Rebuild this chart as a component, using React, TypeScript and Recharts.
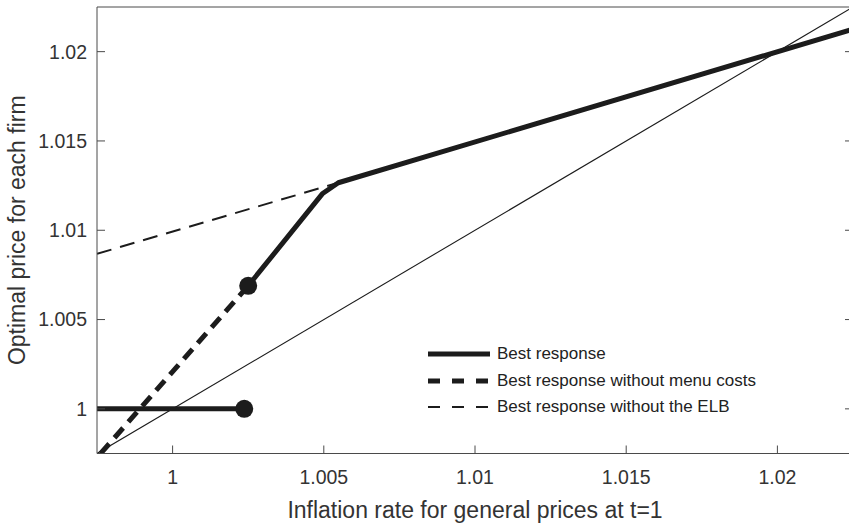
import React from 'react';
import { ComposedChart, Line, Scatter, XAxis, YAxis, Legend } from 'recharts';

// values
const axisDomain = [0.9975, 1.0225];
const tickValues = [1, 1.005, 1.01, 1.015, 1.02];
const tickLabels = ['1', '1.005', '1.01', '1.015', '1.02'];

const identityX = [0.9975, 1.0225];
const identityY = [0.9975, 1.0225];

const brLowX = [0.9975, 1.00237];
const brLowY = [1, 1];

const brHighX = [1.0025, 1.00495, 1.00548, 1.0225];
const brHighY = [1.00689, 1.01204, 1.01266, 1.02126];

const noMenuX = [0.99762, 1.0025];
const noMenuY = [0.9975, 1.00689];

const noElbX = [0.9975, 1.00548];
const noElbY = [1.00868, 1.01266];

const markerX = [1.00237, 1.0025];
const markerY = [1, 1.00689];

const legendNames = [
  'Best response',
  'Best response without menu costs',
  'Best response without the ELB',
];

const toPoints = (xs: number[], ys: number[]) => xs.map((x, i) => ({ x, y: ys[i] }));

const INK = '#1c1c1c';
const AXIS = '#4a4a4a';
const TEXT = '#333';
const FONT = '"Liberation Sans", Arial, sans-serif';

const fmt = (v: number) => {
  const i = tickValues.indexOf(v);
  return i >= 0 ? tickLabels[i] : String(v);
};

// mirrored axes keep their tick marks but show no labels
const NoLabel = () => <g />;

const legendStyles = [
  { width: 5, dash: undefined as string | undefined },
  { width: 5, dash: '12 12' },
  { width: 2, dash: '12 12' },
];

const renderLegend = () => (
  <div style={{ fontFamily: FONT, fontSize: 17, color: '#222' }}>
    {legendNames.map((name, i) => (
      <div key={name} style={{ display: 'flex', alignItems: 'center', height: 26.5 }}>
        <svg width={62} height={10} style={{ marginRight: 7 }}>
          <line
            x1={0}
            y1={5}
            x2={62}
            y2={5}
            stroke={INK}
            strokeWidth={legendStyles[i].width}
            strokeDasharray={legendStyles[i].dash}
          />
        </svg>
        <span style={{ whiteSpace: 'nowrap' }}>{name}</span>
      </div>
    ))}
  </div>
);

const App: React.FC = () => {
  return (
    <div
      style={{
        position: 'absolute',
        left: 0,
        top: 0,
        width: 849,
        height: 525,
        overflow: 'hidden',
        background: '#fff',
      }}
    >
      <ComposedChart width={870} height={525} margin={{ top: 0, right: 0, bottom: 0, left: 0 }}>
        <XAxis
          dataKey="x"
          type="number"
          domain={axisDomain}
          ticks={tickValues}
          tickFormatter={fmt}
          allowDataOverflow
          height={71.5}
          stroke={AXIS}
          tickSize={-8}
          tickMargin={25}
          tick={{ fill: TEXT, fontSize: 19.5, fontFamily: FONT }}
          label={{
            value: 'Inflation rate for general prices at t=1',
            position: 'insideBottom',
            offset: 7,
            fill: TEXT,
            fontSize: 23,
            fontFamily: FONT,
          }}
        />
        <XAxis
          xAxisId="top"
          orientation="top"
          type="number"
          domain={axisDomain}
          ticks={tickValues}
          allowDataOverflow
          height={7}
          stroke={AXIS}
          tickSize={-8}
          tick={NoLabel}
        />
        <YAxis
          dataKey="y"
          type="number"
          domain={axisDomain}
          ticks={tickValues}
          tickFormatter={fmt}
          allowDataOverflow
          width={97}
          stroke={AXIS}
          tickSize={-8}
          tickMargin={18}
          tick={{ fill: TEXT, fontSize: 19.5, fontFamily: FONT }}
          label={{
            value: 'Optimal price for each firm',
            angle: -90,
            position: 'insideLeft',
            offset: 17,
            fill: TEXT,
            fontSize: 23,
            fontFamily: FONT,
            style: { textAnchor: 'middle' },
          }}
        />
        <YAxis
          yAxisId="right"
          orientation="right"
          type="number"
          domain={axisDomain}
          ticks={tickValues}
          allowDataOverflow
          width={17}
          stroke={AXIS}
          tickSize={-8}
          tick={NoLabel}
        />
        <Legend
          layout="horizontal"
          verticalAlign="middle"
          content={renderLegend}
          wrapperStyle={{ left: 428, top: 341, width: 360 }}
        />
        <Line
          data={toPoints(identityX, identityY)}
          dataKey="y"
          stroke={INK}
          strokeWidth={1.1}
          dot={false}
          legendType="none"
          isAnimationActive={false}
        />
        <Line
          data={toPoints(noElbX, noElbY)}
          dataKey="y"
          stroke={INK}
          strokeWidth={2}
          strokeDasharray="15 9"
          dot={false}
          legendType="none"
          isAnimationActive={false}
        />
        <Line
          data={toPoints(noMenuX, noMenuY)}
          dataKey="y"
          stroke={INK}
          strokeWidth={5}
          strokeDasharray="13 8"
          dot={false}
          legendType="none"
          isAnimationActive={false}
        />
        <Line
          data={toPoints(brLowX, brLowY)}
          dataKey="y"
          stroke={INK}
          strokeWidth={5}
          dot={false}
          legendType="none"
          isAnimationActive={false}
        />
        <Line
          data={toPoints(brHighX, brHighY)}
          dataKey="y"
          stroke={INK}
          strokeWidth={5}
          strokeLinejoin="round"
          dot={false}
          legendType="none"
          isAnimationActive={false}
        />
        <Scatter
          data={toPoints(markerX, markerY)}
          dataKey="y"
          fill={INK}
          legendType="none"
          isAnimationActive={false}
          shape={(p: any) => <circle cx={p.cx} cy={p.cy} r={9} fill={INK} />}
        />
      </ComposedChart>
    </div>
  );
};

export default App;
